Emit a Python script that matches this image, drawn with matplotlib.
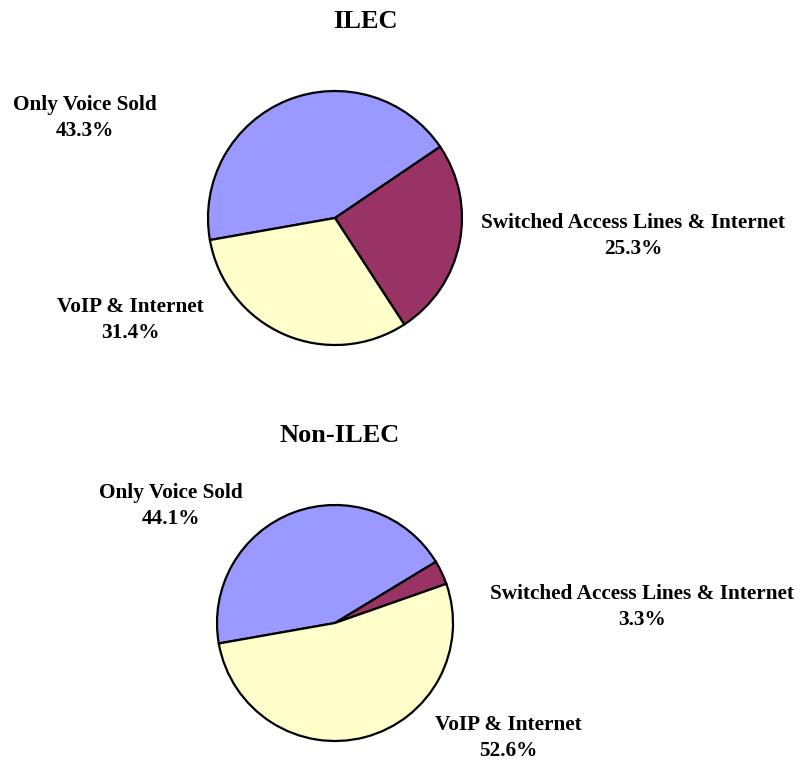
import matplotlib
matplotlib.use("Agg")
import matplotlib.pyplot as plt

# ---- data ----
categories = ["Only Voice Sold", "Switched Access Lines & Internet", "VoIP & Internet"]
ilec_values = [43.3, 25.3, 31.4]
non_ilec_values = [44.1, 3.3, 52.6]
titles = ["ILEC", "Non-ILEC"]
colors = ["#9999FF", "#993366", "#FFFFCC"]

W, H = 803, 761
DPI = 100
fig = plt.figure(figsize=(W / DPI, H / DPI), dpi=DPI)
fig.patch.set_facecolor("white")

FONT = "Liberation Serif"


def px_axes(cx, cy, r, pad=1.06):
    rr = r * pad
    return fig.add_axes([(cx - rr) / W, (H - cy - rr) / H, 2 * rr / W, 2 * rr / H])


def fig_text(x, y, s, size, **kw):
    fig.text(x / W, 1 - y / H, s, ha="center", va="center", fontsize=size,
             fontweight="bold", family=FONT, **kw)


def draw_pie(values, cx, cy, r, title, title_xy, label_xy):
    ax = px_axes(cx, cy, r)
    wedges, _ = ax.pie(values, colors=colors, startangle=190, counterclock=False,
                       radius=1.0, wedgeprops=dict(edgecolor="black", linewidth=1.6))
    for w in wedges:
        w.set_clip_on(False)
    ax.set_xlim(-1.06, 1.06)
    ax.set_ylim(-1.06, 1.06)
    ax.set_aspect("equal")
    ax.axis("off")
    fig_text(title_xy[0], title_xy[1], title, 19)
    for cat, val, (lx, ly) in zip(categories, values, label_xy):
        fig_text(lx, ly, f"{cat}\n{val:.1f}%", 15.3, linespacing=1.4)


draw_pie(ilec_values, 335, 218, 127, titles[0], (365, 22),
         [(85, 118), (633, 236), (130, 320)])
draw_pie(non_ilec_values, 335, 623, 118, titles[1], (340, 436),
         [(171, 506), (642, 607), (508, 738)])

fig.savefig("out.png", dpi=DPI, facecolor="white")
